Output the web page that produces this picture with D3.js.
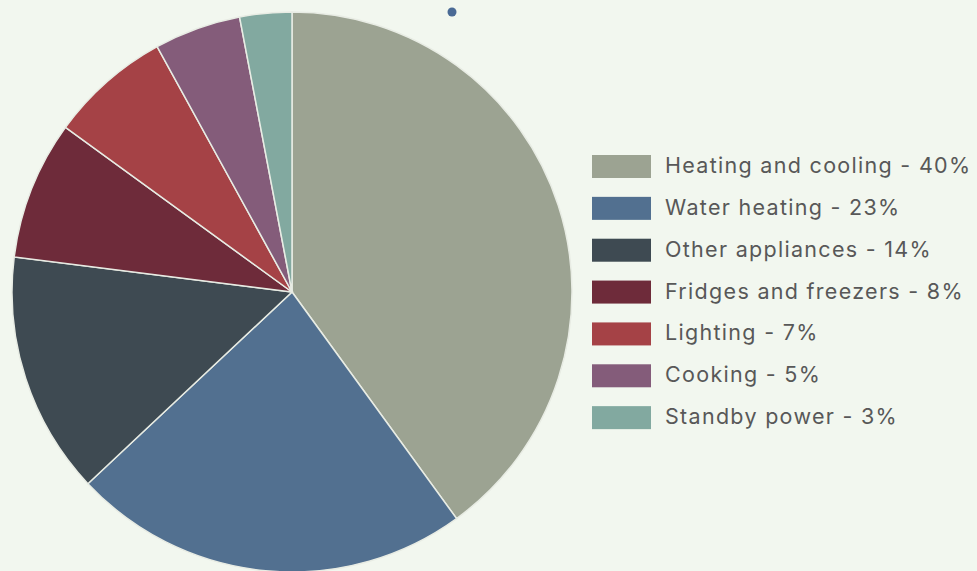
<!DOCTYPE html>
<html>
<head>
<meta charset="utf-8">
<script src="https://cdn.jsdelivr.net/npm/d3@7"></script>
<style>
  body { margin: 0; background: #f2f7ef; }
  svg { display: block; }
  text { font-family: "Inter", "Open Sans", sans-serif; }
</style>
</head>
<body>
<div id="chart"></div>
<script>
const categories = ['Heating and cooling', 'Water heating', 'Other appliances', 'Fridges and freezers', 'Lighting', 'Cooking', 'Standby power'];
const shares = [40, 23, 14, 8, 7, 5, 3];
const colors = ['#9ca392', '#527090', '#3e4a52', '#6e2b3a', '#a54246', '#845c7a', '#82a9a0'];

const width = 977, height = 571;
const svg = d3.select('#chart').append('svg').attr('width', width).attr('height', height);

const data = categories.map((c, i) => ({ name: c, value: shares[i] }));
const color = d3.scaleOrdinal().domain(categories).range(colors);

const pie = d3.pie().value(d => d.value).sort(null);
const arc = d3.arc().innerRadius(0).outerRadius(280);

const g = svg.append('g').attr('transform', 'translate(292,292)');
g.selectAll('path')
  .data(pie(data))
  .enter().append('path')
  .attr('d', arc)
  .attr('fill', d => color(d.data.name))
  .attr('stroke', '#e8ece4')
  .attr('stroke-width', 1.5);

// small dot near the top
svg.append('circle').attr('cx', 452).attr('cy', 12).attr('r', 4.5).attr('fill', '#4a6a95');

const y = d3.scaleBand().domain(categories).range([145, 438]);
const legend = svg.append('g');
const rows = legend.selectAll('g').data(data).enter().append('g')
  .attr('transform', d => `translate(592,${y(d.name)})`);
rows.append('rect')
  .attr('y', 10).attr('width', 59).attr('height', 23)
  .attr('fill', d => color(d.name));
rows.append('text')
  .attr('x', 73).attr('y', 28)
  .attr('font-size', 21.5)
  .attr('letter-spacing', 1.3)
  .attr('fill', '#585858')
  .text(d => `${d.name} - ${d.value}%`);
</script>
</body>
</html>
